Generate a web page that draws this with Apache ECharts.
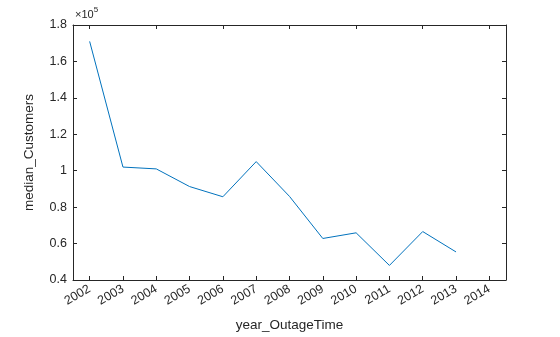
<!DOCTYPE html>
<html><head><meta charset="utf-8">
<script src="https://cdn.jsdelivr.net/npm/echarts@6/dist/echarts.min.js"></script>
<style>html,body{margin:0;padding:0;background:#fff}#c{width:560px;height:337px}</style>
</head><body><div id="c"></div>
<script>
var years = ['2002','2003','2004','2005','2006','2007','2008','2009','2010','2011','2012','2013','2014'];
var medianCustomers = [171000, 102000, 101000, 91300, 85700, 105000, 85900, 62800, 65900, 48000, 66600, 55400, null];
var yTicks = [0.4, 0.6, 0.8, 1, 1.2, 1.4, 1.6, 1.8];

var chart = echarts.init(document.getElementById('c'));
var font = 'Liberation Sans, Arial, sans-serif';
var axisLine = {show: true, lineStyle: {color: '#262626', width: 1}};
chart.setOption({
  animation: false,
  grid: {left: 73, top: 25, right: 54, bottom: 55, containLabel: false},
  xAxis: [{
    type: 'category', data: years, boundaryGap: true, position: 'bottom',
    axisLine: axisLine,
    axisTick: {show: true, inside: true, alignWithLabel: true, length: 4, lineStyle: {color: '#262626'}},
    axisLabel: {rotate: 30, color: '#262626', fontSize: 12.5, fontFamily: font, margin: 8, interval: 0},
    name: 'year_OutageTime', nameLocation: 'middle', nameGap: 38,
    nameTextStyle: {color: '#262626', fontSize: 13.5, fontFamily: font},
    splitLine: {show: false}
  }, {
    type: 'category', data: years, boundaryGap: true, position: 'top',
    axisLine: axisLine,
    axisTick: {show: true, inside: true, alignWithLabel: true, length: 4, lineStyle: {color: '#262626'}},
    axisLabel: {show: false}, splitLine: {show: false}
  }],
  yAxis: [{
    type: 'value', min: 40000, max: 180000, interval: 20000, position: 'left',
    axisLine: axisLine,
    axisTick: {show: true, inside: true, length: 4, lineStyle: {color: '#262626'}},
    axisLabel: {color: '#262626', fontSize: 12.5, fontFamily: font, margin: 6,
      formatter: function (v) { return String(Math.round(v / 1e4) / 10); }},
    splitLine: {show: false},
    name: 'median_Customers', nameLocation: 'middle', nameGap: 37, nameRotate: 90,
    nameTextStyle: {color: '#262626', fontSize: 13.5, fontFamily: font}
  }, {
    type: 'value', min: 40000, max: 180000, interval: 20000, position: 'right',
    axisLine: axisLine,
    axisTick: {show: true, inside: true, length: 4, lineStyle: {color: '#262626'}},
    axisLabel: {show: false}, splitLine: {show: false}
  }],
  graphic: [{
    type: 'text', left: 75, top: 6,
    style: {
      text: '{a|×10}{b|5}',
      rich: {
        a: {fontSize: 11, fontFamily: font, fill: '#262626', verticalAlign: 'bottom'},
        b: {fontSize: 8, fontFamily: font, fill: '#262626', padding: [0, 0, 6, 0]}
      }
    }
  }],
  series: [{
    type: 'line', data: medianCustomers, xAxisIndex: 0, yAxisIndex: 0,
    showSymbol: false, symbol: 'none',
    lineStyle: {color: '#0072BD', width: 1}
  }]
});
</script></body></html>
